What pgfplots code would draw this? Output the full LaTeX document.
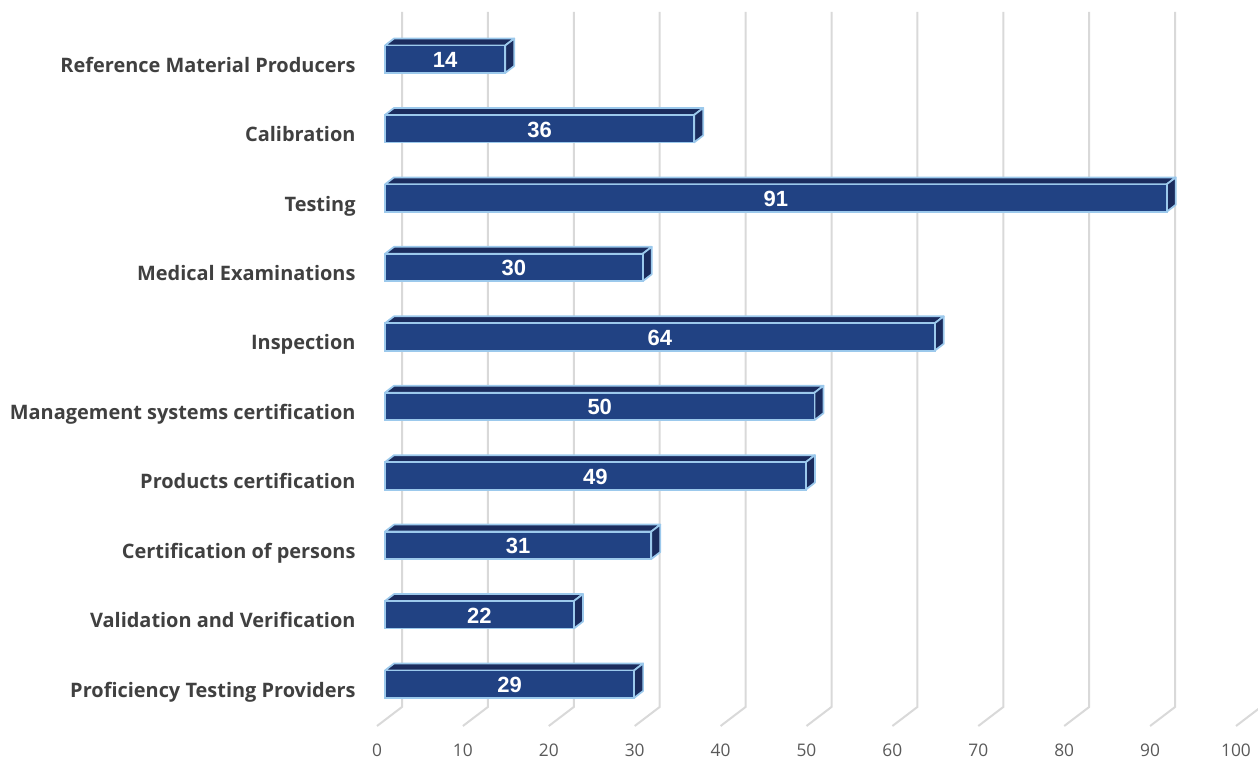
\documentclass[border=0pt]{standalone}
\usepackage{fontspec}
\setmainfont{Open Sans}
\newfontfamily\valuefont{Liberation Sans}
\usepackage{pgfplots}
\usepackage{pgfplotstable}
\pgfplotsset{compat=1.18}

\definecolor{barfront}{HTML}{214283}
\definecolor{bardark}{HTML}{1B2C5E}
\definecolor{baredge}{HTML}{9CC9EC}
\definecolor{gridgray}{HTML}{D9D9D9}
\definecolor{catlabel}{HTML}{404040}
\definecolor{ticklabel}{HTML}{595959}

% rows run from the bottom bar to the top bar
\pgfplotstableread{
idx value
0   29
1   22
2   31
3   49
4   50
5   64
6   30
7   91
8   36
9   14
}\bardata

\begin{document}
\begin{tikzpicture}
\useasboundingbox (-288.75pt,-26.25pt) rectangle (654.75pt,544.5pt);
\begin{axis}[
    scale only axis,
    width=644.25pt,
    height=535.5pt,
    xmin=0, xmax=100,
    ymin=-0.605, ymax=9.677,
    clip=false,
    axis line style={draw=none},
    major tick length=0pt,
    xtick={0,10,...,100},
    ytick={0,...,9},
    yticklabels={Proficiency Testing Providers,Validation and Verification,Certification of persons,Products certification,Management systems certification,Inspection,Medical Examinations,Testing,Calibration,Reference Material Producers},
    yticklabel style={font=\fontsize{14.95}{16}\selectfont\bfseries, text=catlabel, anchor=base east, inner sep=0pt, xshift=-21.9pt, yshift=-9.9pt},
    xticklabel style={font=\fontsize{13}{15}\selectfont, text=ticklabel, anchor=center, inner sep=0pt, xshift=-6pt, yshift=-18pt},
    /pgf/number format/assume math mode=true,
]
% walls and floor lines
\pgfplotsinvokeforeach{0,10,...,100}{
  \pgfmathsetmacro\gfront{#1-0.93}
  \pgfmathsetmacro\gback{#1+1.98}
  \edef\temp{\noexpand\addplot[gridgray, line width=1.5pt, forget plot] coordinates {(\gfront,-0.605) (\gback,-0.331) (\gback,9.677)};}
  \temp
}
% top and side faces of the bars
\pgfplotsinvokeforeach{0,...,9}{
  \pgfplotstablegetelem{#1}{value}\of\bardata
  \let\v\pgfplotsretval
  \pgfmathsetmacro\vb{\v+1.05}
  \pgfmathsetmacro\yf{#1+0.195}
  \pgfmathsetmacro\yb{#1+0.295}
  \pgfmathsetmacro\yl{#1-0.2}
  \pgfmathsetmacro\ylb{#1-0.1}
  \edef\temp{\noexpand\addplot[fill=bardark, draw=baredge, line width=1.3pt, line join=round, forget plot] coordinates {(0,\yf) (\v,\yf) (\vb,\yb) (1.05,\yb)} -- cycle;
  \noexpand\addplot[fill=bardark, draw=baredge, line width=1.3pt, line join=round, forget plot] coordinates {(\v,\yf) (\vb,\yb) (\vb,\ylb) (\v,\yl)} -- cycle;}
  \temp
}
% front faces with the counts centred on them
\addplot[
    xbar, bar width=20.6pt, bar shift=-0.2pt,
    fill=barfront, draw=baredge, line width=1.3pt,
    visualization depends on={rawx \as \rawv},
    point meta=x,
    nodes near coords,
    nodes near coords style={font=\valuefont\fontsize{16.5}{18}\selectfont\bfseries, text=white, anchor=center, inner sep=0pt, xshift={-\rawv*3.22125pt}, yshift=-0.75pt},
] table[x=value, y=idx] {\bardata};
\end{axis}
\end{tikzpicture}
\end{document}
